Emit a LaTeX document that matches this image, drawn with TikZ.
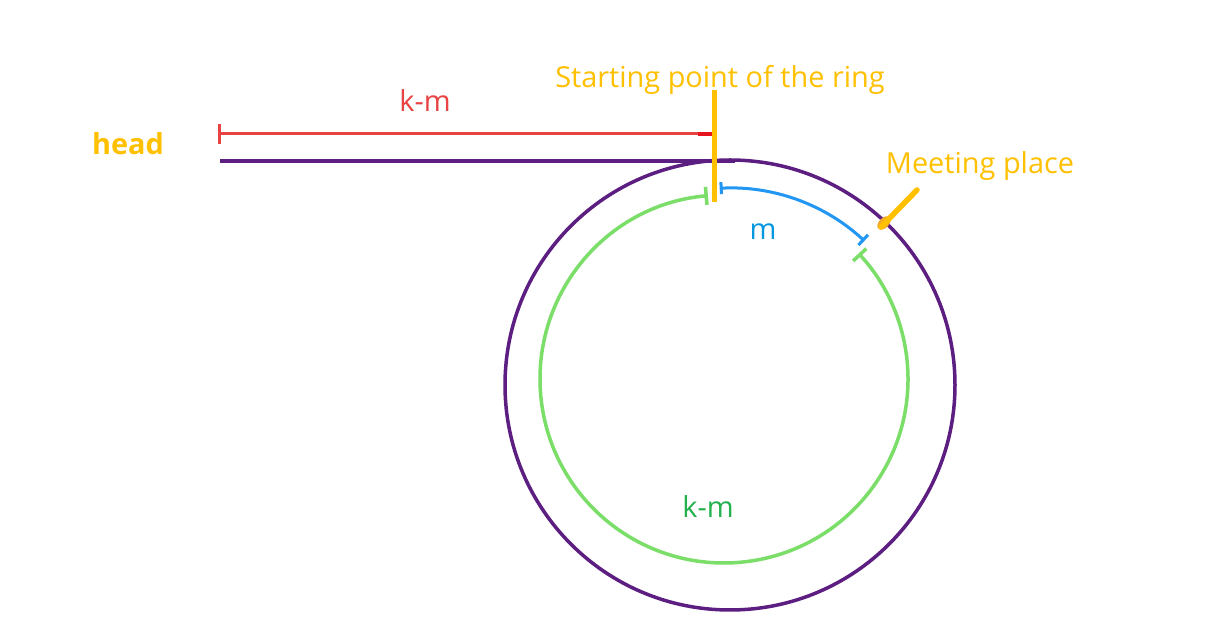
\documentclass[tikz,border=0pt]{standalone}
\usepackage{fontspec}
\setmainfont{Open Sans}
\usetikzlibrary{arrows.meta}
\definecolor{ringpurple}{RGB}{92,30,128}
\definecolor{pathred}{RGB}{232,66,66}
\definecolor{tipred}{RGB}{230,20,30}
\definecolor{arcgreen}{RGB}{122,222,104}
\definecolor{txtgreen}{RGB}{34,177,76}
\definecolor{arcblue}{RGB}{33,150,243}
\definecolor{txtblue}{RGB}{0,150,224}
\definecolor{markyellow}{RGB}{255,192,0}
\definecolor{blob}{RGB}{240,168,48}
\tikzset{
  lbl/.style={font=\fontsize{29}{32}\selectfont, inner sep=0pt},
  boldlbl/.style={font=\fontsize{29}{32}\selectfont\bfseries, inner sep=0pt}
}

\begin{document}
\begin{tikzpicture}[x=1bp,y=1bp]
            \useasboundingbox[fill=white] (0,0) rectangle (1207,632);
            \draw[ringpurple, line width=3.5bp] (730,247) circle[radius=225];
            \draw[arcgreen, line width=3.5bp, {Bar[width=18bp]}-{Bar[width=18bp]}] (724,253) ++(95:184) arc[start angle=95, end angle=403, radius=184];
            \draw[arcblue, line width=3bp, {Bar[width=12bp]}-{Bar[width=14bp]}] (730,247) ++(93:197) arc[start angle=93, end angle=47, radius=197];
            \coordinate (lineL) at (220,471);
            \coordinate (top) at (735,471);
            \coordinate (redL) at (218,498);
            \coordinate (redR) at (712,498);
            \coordinate (startT) at (714,542);
            \coordinate (startB) at (714,430);
            \coordinate (meetT) at (917,442);
            \coordinate (meetB) at (881,405);
            \draw[ringpurple, line width=3.5bp] (lineL) -- (top);
            \draw[pathred, line width=3bp, {Bar[width=20bp]}-] (redL) -- (redR);
            \draw[tipred, line width=4.5bp] (698,498) -- (redR);
            \draw[markyellow, line width=5bp] (startT) -- (startB);
            \fill[blob, rotate around={45:(884,409)}] (884,409) ellipse[x radius=8, y radius=5];
            \draw[markyellow, line width=5.5bp, line cap=round] (meetT) -- (meetB);
            \node[boldlbl, text=markyellow] (head) at (128,488) {head};
            \node[lbl, text=pathred] (km1) at (425,531) {k-m};
            \node[lbl, text=markyellow] (start) at (720,552) {Starting point of the ring};
            \node[lbl, text=markyellow] (meet) at (980,466) {Meeting place};
            \node[lbl, text=txtblue] (m) at (763,400) {m};
            \node[lbl, text=txtgreen] (km2) at (708,125) {k-m};
        \end{tikzpicture}
\end{document}
